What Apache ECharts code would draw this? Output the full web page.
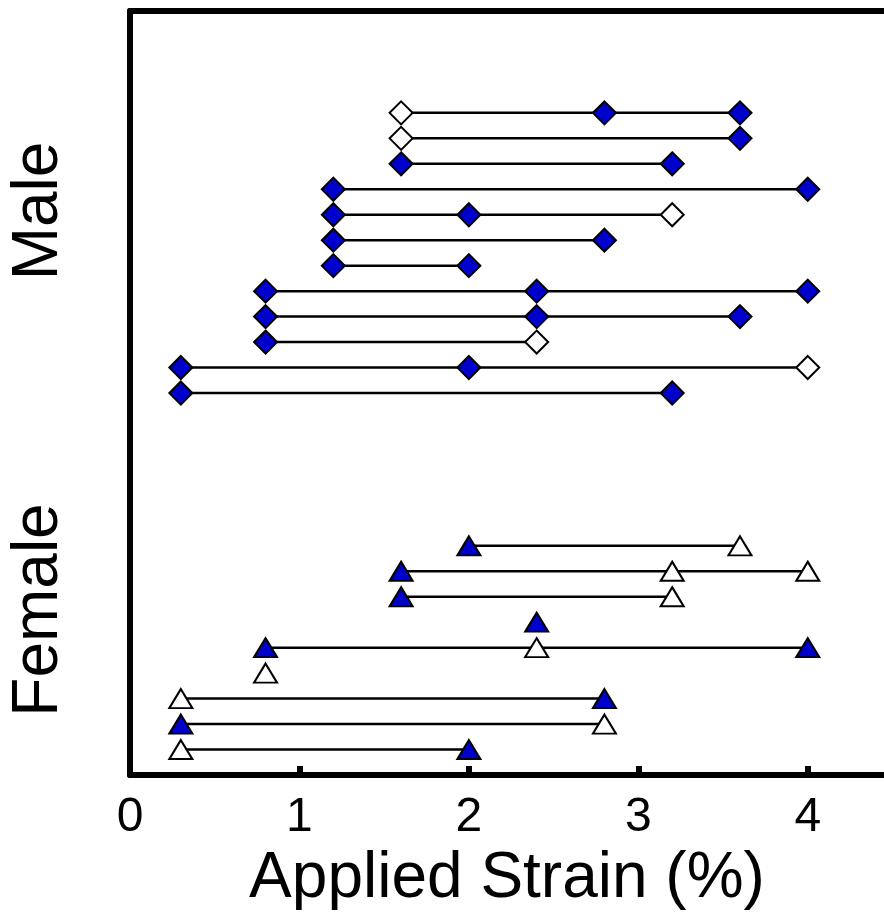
<!DOCTYPE html>
<html>
<head>
<meta charset="utf-8">
<style>
  html, body { margin: 0; padding: 0; background: #fff; }
  #chart { width: 884px; height: 916px; }
</style>
<script src="https://cdn.jsdelivr.net/npm/echarts@6/dist/echarts.min.js"></script>
</head>
<body>
<div id="chart"></div>
<script>
// each row: strain levels with filled (blue) and open (white) markers
var maleRowPos = [26, 25, 24, 23, 22, 21, 20, 19, 18, 17, 16, 15]
var maleFilled = [[2.8, 3.6], [3.6], [1.6, 3.2], [1.2, 4.0], [1.2, 2.0], [1.2, 2.8],
  [1.2, 2.0], [0.8, 2.4, 4.0], [0.8, 2.4, 3.6], [0.8], [0.3, 2.0], [0.3, 3.2]]
var maleOpen = [[1.6], [1.6], [], [], [3.2], [], [], [], [], [2.4], [4.0], []]

var femaleRowPos = [9, 8, 7, 6, 5, 4, 3, 2, 1]
var femaleFilled = [[2.0], [1.6], [1.6], [2.4], [0.8, 4.0], [], [2.8], [0.3], [2.0]]
var femaleOpen = [[3.6], [3.2, 4.0], [3.2], [], [2.4], [0.8], [0.3], [2.8], [0.3]]

var xTicks = [0, 1, 2, 3, 4]
var groupLabels = ['Male', 'Female']

var FONT = '"Liberation Sans", Arial, sans-serif'
var BLUE = '#0000cc'

function points(rows, pos) {
  var out = []
  rows.forEach(function (xs, i) {
    xs.forEach(function (x) { out.push([x, pos[i]]) })
  })
  return out
}

function segments(filled, open, pos) {
  var out = []
  pos.forEach(function (y, i) {
    var xs = filled[i].concat(open[i])
    if (xs.length > 1) {
      out.push([Math.min.apply(null, xs), y])
      out.push([Math.max.apply(null, xs), y])
      out.push('-')
    }
  })
  return out
}

var chart = echarts.init(document.getElementById('chart'))

var markerStyle = function (fill) {
  return { color: fill, opacity: 1, borderColor: '#000', borderWidth: 2 }
}

var option = {
  animation: false,
  grid: { left: 130, right: 0, top: 11, bottom: 141 },
  xAxis: [{
    type: 'value',
    position: 'bottom',
    min: 0,
    max: 4.45,
    interval: 1,
    name: 'Applied Strain (%)',
    nameLocation: 'middle',
    nameGap: 71,
    nameTextStyle: { color: '#000', fontSize: 64, fontFamily: FONT },
    axisLine: { show: true, onZero: false, lineStyle: { color: '#000', width: 6 } },
    axisTick: { show: true, inside: true, length: 9, lineStyle: { color: '#000', width: 6 } },
    axisLabel: {
      color: '#000', fontSize: 48, fontFamily: FONT, margin: 19,
      showMaxLabel: false,
      formatter: function (v) { return xTicks.indexOf(v) >= 0 ? String(v) : '' }
    },
    splitLine: { show: false }
  }, {
    type: 'value',
    position: 'top',
    min: 0,
    max: 4.45,
    axisLine: { show: true, onZero: false, lineStyle: { color: '#000', width: 6 } },
    axisTick: { show: false },
    axisLabel: { show: false },
    splitLine: { show: false }
  }],
  yAxis: {
    type: 'value',
    min: 0,
    max: 30,
    axisLine: { show: true, onZero: false, lineStyle: { color: '#000', width: 6 } },
    axisTick: { show: false },
    axisLabel: { show: false },
    splitLine: { show: false }
  },
  graphic: [
    { type: 'text', x: 39, y: 211, rotation: Math.PI / 2,
      style: { text: groupLabels[0], font: '64px ' + FONT, fill: '#000', align: 'center', verticalAlign: 'middle' } },
    { type: 'text', x: 39, y: 610, rotation: Math.PI / 2,
      style: { text: groupLabels[1], font: '64px ' + FONT, fill: '#000', align: 'center', verticalAlign: 'middle' } }
  ],
  series: [
    {
      type: 'line',
      data: segments(maleFilled, maleOpen, maleRowPos).concat(segments(femaleFilled, femaleOpen, femaleRowPos)),
      symbol: 'none',
      connectNulls: false,
      lineStyle: { color: '#000', width: 2.5 },
      z: 2
    },
    { type: 'scatter', symbol: 'diamond', symbolSize: 23, itemStyle: markerStyle(BLUE),
      data: points(maleFilled, maleRowPos), z: 3 },
    { type: 'scatter', symbol: 'diamond', symbolSize: 23, itemStyle: markerStyle('#fff'),
      data: points(maleOpen, maleRowPos), z: 3 },
    { type: 'scatter', symbol: 'triangle', symbolSize: [23, 19], itemStyle: markerStyle(BLUE),
      data: points(femaleFilled, femaleRowPos), z: 3 },
    { type: 'scatter', symbol: 'triangle', symbolSize: [23, 19], itemStyle: markerStyle('#fff'),
      data: points(femaleOpen, femaleRowPos), z: 3 }
  ]
}
chart.setOption(option)
</script>
</body>
</html>
